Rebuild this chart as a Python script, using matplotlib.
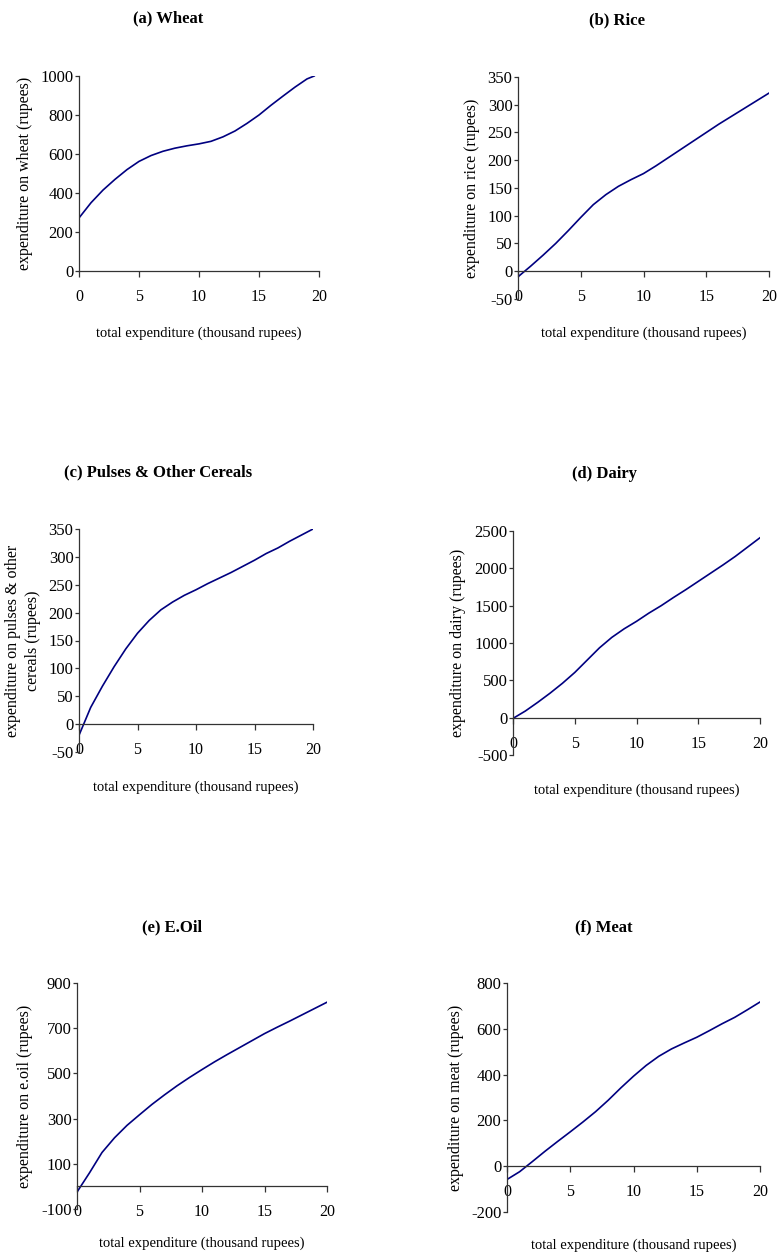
import matplotlib.pyplot as plt

plt.rcParams['font.family'] = ['Liberation Serif', 'DejaVu Serif']
plt.rcParams['axes.unicode_minus'] = False

W, H = 778, 1257

# total expenditure (thousand rupees)
x = list(range(0, 21))
wheat_x = list(range(0, 20)) + [19.6]

wheat = [272, 350, 415, 470, 520, 562, 592, 614, 630, 642, 652, 665, 688,
         718, 757, 800, 850, 897, 943, 985, 1000]
rice = [-10, 9, 29, 50, 73, 97, 120, 138, 153, 165, 176, 190, 205, 220,
        235, 250, 265, 279, 293, 307, 321]
pulses = [-20, 30, 68, 103, 135, 163, 186, 205, 219, 231, 241, 252, 262,
          272, 283, 294, 306, 316, 328, 339, 350]
dairy = [-10, 89, 205, 328, 460, 605, 770, 935, 1075, 1190, 1290, 1400,
         1500, 1610, 1715, 1825, 1935, 2045, 2160, 2285, 2410]
eoil = [-25, 60, 150, 215, 270, 317, 363, 405, 445, 482, 517, 551, 583,
        614, 645, 676, 704, 731, 759, 787, 815]
meat = [-58, -24, 20, 65, 108, 150, 193, 238, 288, 342, 393, 440, 480,
        512, 538, 563, 592, 622, 650, 683, 717]

titles = ['(a) Wheat', '(b) Rice', '(c) Pulses & Other Cereals',
          '(d) Dairy', '(e) E.Oil', '(f) Meat']
ylabels = ['expenditure on wheat (rupees)',
           'expenditure on rice (rupees)',
           'expenditure on pulses & other\ncereals (rupees)',
           'expenditure on dairy (rupees)',
           'expenditure on e.oil (rupees)',
           'expenditure on meat (rupees)']
yticks = [[0, 200, 400, 600, 800, 1000],
          [-50, 0, 50, 100, 150, 200, 250, 300, 350],
          [-50, 0, 50, 100, 150, 200, 250, 300, 350],
          [-500, 0, 500, 1000, 1500, 2000, 2500],
          [-100, 100, 300, 500, 700, 900],
          [-200, 0, 200, 400, 600, 800]]
series = [(wheat_x, wheat), (x, rice), (x, pulses),
          (x, dairy), (x, eoil), (x, meat)]

# layout in pixels: axes box (left, top, right, bottom), title (x, y),
# ylabel x, xlabel y
layout = [
    ((79, 76, 319, 271), (168, 18), 25, 333),
    ((518, 77, 769, 299), (617, 20), 472, 333),
    ((79, 529, 313, 752), (158, 472), 23, 787),
    ((513, 531, 760, 755), (605, 474), 458, 790),
    ((77, 983, 327, 1209), (172, 927), 25, 1243),
    ((507, 983, 760, 1212), (604, 927), 456, 1245),
]

fig = plt.figure(figsize=(W / 100, H / 100), dpi=100)

for (xs, ys), title, ylab, yt, (box, tpos, ylx, xly) in zip(
        series, titles, ylabels, yticks, layout):
    l, t, r, b = box
    ax = fig.add_axes([l / W, 1 - b / H, (r - l) / W, (b - t) / H])
    ax.plot(xs, ys, color='#000080', lw=1.2)
    ax.set_xlim(0, 20)
    ax.set_ylim(yt[0], yt[-1])
    ax.set_xticks([0, 5, 10, 15, 20])
    ax.set_yticks(yt)
    for s in ['top', 'right']:
        ax.spines[s].set_visible(False)
    ax.spines['bottom'].set_position(('data', 0))
    for s in ['left', 'bottom']:
        ax.spines[s].set_color('#333333')
        ax.spines[s].set_linewidth(0.9)
    ax.tick_params(axis='x', direction='out', length=4, width=0.9,
                   color='#333333', pad=9, labelsize=11.5)
    ax.tick_params(axis='y', direction='out', length=3, width=0.9,
                   color='#333333', pad=1, labelsize=12)
    ax.patch.set_alpha(0)

    fig.text(tpos[0] / W, 1 - tpos[1] / H, title, ha='center', va='center',
             fontsize=12, fontweight='bold')
    fig.text(ylx / W, 1 - (t + b) / 2 / H, ylab, rotation=90, ha='center',
             va='center', fontsize=11.5, linespacing=1.3)
    fig.text((l + r) / 2 / W, 1 - xly / H,
             'total expenditure (thousand rupees)', ha='center',
             va='center', fontsize=10.5)

fig.savefig('out.png', dpi=100)
